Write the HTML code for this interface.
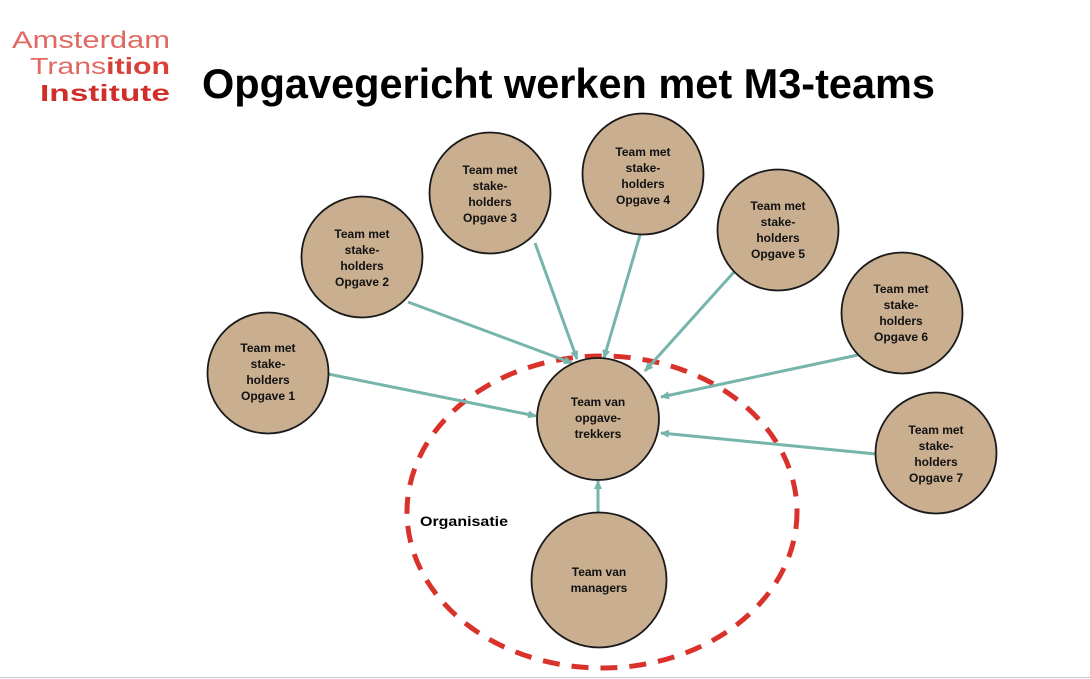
<!DOCTYPE html>
<html>
<head>
<meta charset="utf-8">
<style>
  html,body{margin:0;padding:0;background:#fff;}
  svg{display:block;}
  .ct{font-family:"Liberation Sans",Arial,sans-serif;font-weight:bold;font-size:12px;fill:#111;text-anchor:middle;}
</style>
</head>
<body>
<svg width="1090" height="679" viewBox="0 0 1090 679" xmlns="http://www.w3.org/2000/svg">
  <defs>
    <marker id="ah" markerWidth="10" markerHeight="10" refX="8" refY="4.5" orient="auto" markerUnits="userSpaceOnUse">
      <path d="M0,0.5 L9,4.5 L0,8.5 Z" fill="#76b5ab"/>
    </marker>
  </defs>
  <rect width="1090" height="679" fill="#fff"/>

  <!-- Logo -->
  <text x="12" y="48" font-family="Liberation Sans, sans-serif" font-size="24" fill="#e06a62" textLength="158" lengthAdjust="spacingAndGlyphs">Amsterdam</text>
  <text x="30" y="74" font-family="Liberation Sans, sans-serif" font-size="23" fill="#d8403a" textLength="140" lengthAdjust="spacingAndGlyphs"><tspan fill="#e06a62">Trans</tspan><tspan font-weight="bold">ition</tspan></text>
  <text x="40" y="101" font-family="Liberation Sans, sans-serif" font-size="23" font-weight="bold" fill="#cf2e2a" textLength="130" lengthAdjust="spacingAndGlyphs">Institute</text>

  <!-- Title -->
  <text x="202" y="98" font-family="Liberation Sans, sans-serif" font-size="42" font-weight="bold" fill="#000" textLength="733" lengthAdjust="spacingAndGlyphs">Opgavegericht werken met M3-teams</text>

  <!-- Dashed ellipse -->
  <ellipse cx="602" cy="512" rx="195" ry="156" fill="none" stroke="#d9322b" stroke-width="5" stroke-dasharray="17 12"/>

  <!-- Arrows -->
  <g stroke="#76b5ab" stroke-width="3" fill="none" marker-end="url(#ah)">
    <line x1="328" y1="374" x2="536" y2="416"/>
    <line x1="408" y1="302" x2="572" y2="363"/>
    <line x1="535" y1="243" x2="577" y2="359"/>
    <line x1="640" y1="235" x2="604" y2="358"/>
    <line x1="734" y1="272" x2="645" y2="371"/>
    <line x1="858" y1="355" x2="661" y2="397"/>
    <line x1="876" y1="454" x2="661" y2="433"/>
    <line x1="598" y1="512" x2="598" y2="481"/>
  </g>

  <!-- Circles -->
  <g fill="#c9af90" stroke="#1a1a1a" stroke-width="1.8">
    <circle cx="268" cy="373" r="60.5"/>
    <circle cx="362" cy="257" r="60.5"/>
    <circle cx="490" cy="193" r="60.5"/>
    <circle cx="643" cy="174" r="60.5"/>
    <circle cx="778" cy="230" r="60.5"/>
    <circle cx="902" cy="313" r="60.5"/>
    <circle cx="936" cy="453" r="60.5"/>
    <circle cx="598" cy="419" r="61"/>
    <circle cx="599" cy="580" r="67.5"/>
  </g>

  <!-- Circle labels -->
  <g>
    <text class="ct" x="268" y="352">Team met</text>
    <text class="ct" x="268" y="368">stake-</text>
    <text class="ct" x="268" y="384">holders</text>
    <text class="ct" x="268" y="400">Opgave 1</text>

    <text class="ct" x="362" y="238">Team met</text>
    <text class="ct" x="362" y="254">stake-</text>
    <text class="ct" x="362" y="270">holders</text>
    <text class="ct" x="362" y="286">Opgave 2</text>

    <text class="ct" x="490" y="174">Team met</text>
    <text class="ct" x="490" y="190">stake-</text>
    <text class="ct" x="490" y="206">holders</text>
    <text class="ct" x="490" y="222">Opgave 3</text>

    <text class="ct" x="643" y="156">Team met</text>
    <text class="ct" x="643" y="172">stake-</text>
    <text class="ct" x="643" y="188">holders</text>
    <text class="ct" x="643" y="204">Opgave 4</text>

    <text class="ct" x="778" y="210">Team met</text>
    <text class="ct" x="778" y="226">stake-</text>
    <text class="ct" x="778" y="242">holders</text>
    <text class="ct" x="778" y="258">Opgave 5</text>

    <text class="ct" x="901" y="293">Team met</text>
    <text class="ct" x="901" y="309">stake-</text>
    <text class="ct" x="901" y="325">holders</text>
    <text class="ct" x="901" y="341">Opgave 6</text>

    <text class="ct" x="936" y="434">Team met</text>
    <text class="ct" x="936" y="450">stake-</text>
    <text class="ct" x="936" y="466">holders</text>
    <text class="ct" x="936" y="482">Opgave 7</text>

    <text class="ct" x="598" y="406">Team van</text>
    <text class="ct" x="598" y="422">opgave-</text>
    <text class="ct" x="598" y="438">trekkers</text>

    <text class="ct" x="599" y="576">Team van</text>
    <text class="ct" x="599" y="592">managers</text>
  </g>

  <!-- Organisatie -->
  <text x="420" y="526" font-family="Liberation Sans, sans-serif" font-size="13.5" font-weight="bold" fill="#000" textLength="88" lengthAdjust="spacingAndGlyphs">Organisatie</text>

  <!-- bottom line -->
  <line x1="0" y1="677.5" x2="1090" y2="677.5" stroke="#c8c8c8" stroke-width="1"/>
</svg>
</body>
</html>
